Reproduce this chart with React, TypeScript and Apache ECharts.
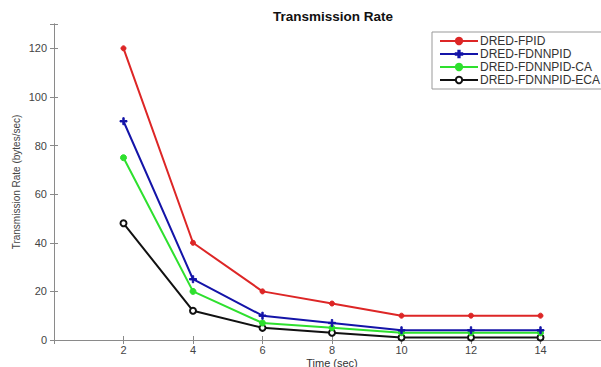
import React, { useEffect, useRef } from "react";
import * as echarts from "echarts";

const timeSec = [2, 4, 6, 8, 10, 12, 14];
const seriesNames = ["DRED-FPID", "DRED-FDNNPID", "DRED-FDNNPID-CA", "DRED-FDNNPID-ECA"];
const fpid = [120, 40, 20, 15, 10, 10, 10];
const fdnnpid = [90, 25, 10, 7, 4, 4, 4];
const fdnnpidCA = [75, 20, 7, 5, 3, 3, 3];
const fdnnpidECA = [48, 12, 5, 3, 1, 1, 1];
const xTickLabels = ["2", "4", "6", "8", "10", "12", "14"];
const yTickLabels = ["0", "20", "40", "60", "80", "100", "120"];

const colors = ["#dd2626", "#1414a8", "#2ee02e", "#111111"];
const plusPath = "path://M-1,-5H1V-1H5V1H1V5H-1V1H-5V-1H-1Z";

export default function App() {
  const ref = useRef<HTMLDivElement>(null);
  useEffect(() => {
    if (!ref.current) return;
    const chart = echarts.init(ref.current, undefined, { renderer: "svg" });
    const font = "Liberation Sans, Arial, sans-serif";
    const mk = (data: number[]) => timeSec.map((t, i) => [t, data[i]]);
    const symbols = ["circle", plusPath, "circle", "emptyCircle"];
    const sizes = [5, 7, 6, 6];
    const all = [fpid, fdnnpid, fdnnpidCA, fdnnpidECA];
    const axisLineStyle = { color: "#8a8a8a", width: 1 };
    chart.setOption({
      animation: false,
      textStyle: { fontFamily: font },
      title: {
        text: "Transmission Rate",
        left: 268,
        top: 4,
        textStyle: { fontFamily: font, fontSize: 13.5, fontWeight: "bold", color: "#111" },
      },
      legend: {
        orient: "vertical",
        left: 432,
        top: 32,
        itemWidth: 38,
        itemHeight: 8,
        itemGap: 1,
        padding: [3, 5, 3, 7],
        borderColor: "#999",
        borderWidth: 1,
        textStyle: { fontFamily: font, fontSize: 12, lineHeight: 11, color: "#333", padding: [0, 0, 0, -3] },
        data: seriesNames,
      },
      grid: { left: 54, top: 24, right: -9, bottom: 27, outerBoundsMode: "none", containLabel: false },
      xAxis: [
        {
          type: "value",
          min: 0,
          max: 16,
          interval: 2,
          name: "Time (sec)",
          nameLocation: "middle",
          nameGap: 17,
          nameMoveOverlap: false,
          nameTextStyle: { fontFamily: font, fontSize: 11, lineHeight: 11, color: "#333" },
          axisLine: { show: true, lineStyle: axisLineStyle },
          axisTick: { show: true, inside: true, length: 4, lineStyle: axisLineStyle },
          axisLabel: {
            fontFamily: font,
            fontSize: 11,
            lineHeight: 11,
            color: "#444",
            margin: 4,
            formatter: (v: number) => {
              const s = String(v);
              return xTickLabels.includes(s) ? s : "";
            },
          },
          splitLine: { show: false },
        },
        {
          type: "value",
          position: "top",
          min: 0,
          max: 16,
          interval: 2,
          axisLine: { show: true, lineStyle: axisLineStyle },
          axisTick: { show: true, inside: true, length: 4, lineStyle: axisLineStyle },
          axisLabel: { show: false },
          splitLine: { show: false },
        },
      ],
      yAxis: [
        {
          type: "value",
          min: 0,
          max: 130,
          interval: 20,
          name: "Transmission Rate (bytes/sec)",
          nameLocation: "middle",
          nameGap: 33,
          nameMoveOverlap: false,
          nameTextStyle: { fontFamily: font, fontSize: 10, color: "#444" },
          axisLine: { show: true, lineStyle: axisLineStyle },
          axisTick: { show: true, inside: true, length: 4, lineStyle: axisLineStyle },
          axisLabel: {
            fontFamily: font,
            fontSize: 11,
            color: "#444",
            margin: 7,
            formatter: (v: number) => {
              const s = String(v);
              return yTickLabels.includes(s) ? s : "";
            },
          },
          splitLine: { show: false },
        },
        {
          type: "value",
          position: "right",
          min: 0,
          max: 130,
          interval: 20,
          axisLine: { show: true, lineStyle: axisLineStyle },
          axisTick: { show: true, inside: true, length: 4, lineStyle: axisLineStyle },
          axisLabel: { show: false },
          splitLine: { show: false },
        },
      ],
      series: seriesNames.map((name, i) => ({
        name,
        type: "line",
        data: mk(all[i]),
        symbol: symbols[i],
        symbolSize: sizes[i],
        showSymbol: true,
        lineStyle: { color: colors[i], width: 2 },
        itemStyle: { color: colors[i], borderColor: colors[i], borderWidth: i === 3 ? 1.6 : 1 },
        z: 10 - i,
      })),
      color: colors,
    });
    return () => chart.dispose();
  }, []);
  return (
    <div
      ref={ref}
      style={{ position: "fixed", left: 0, top: 0, width: 601, height: 367, background: "#fff" }}
    />
  );
}
